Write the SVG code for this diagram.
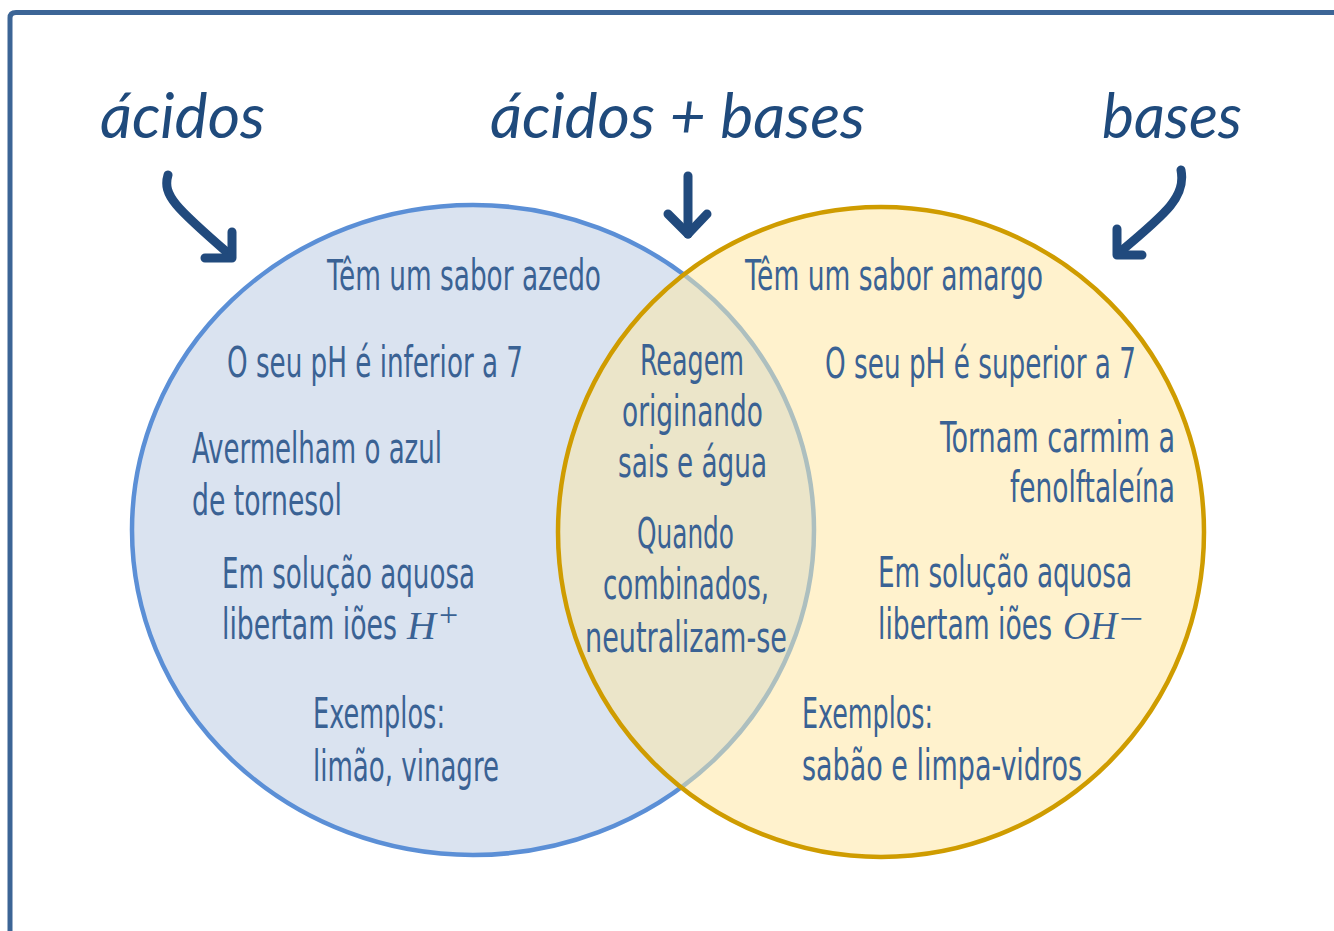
<svg xmlns="http://www.w3.org/2000/svg" width="1334" height="931" viewBox="0 0 1334 931">
<style>
.t{font-family:"Liberation Sans Narrow","DejaVu Sans Condensed","Liberation Sans",sans-serif;font-size:42px;fill:#3a6294}
.m{font-family:"Liberation Serif",serif;font-style:italic;font-size:40px}
.s{font-family:"Liberation Serif",serif;font-style:normal;font-size:34px}
.h{font-family:"Lato","Noto Sans",sans-serif;font-style:italic;font-size:62px;fill:#1f4a7c}
.arr{fill:none;stroke:#214a7d;stroke-width:9;stroke-linecap:round;stroke-linejoin:round}
</style>
<defs>
<clipPath id="cr"><ellipse cx="881" cy="532" rx="323" ry="325"/></clipPath>
</defs>
<rect width="1334" height="931" fill="#ffffff"/>
<path id="frame" d="M10,931 V18 Q10,12.5 16,12.5 H1334" fill="none" stroke="#3c6596" stroke-width="5"/>

<g id="acids-circle">
<ellipse cx="473" cy="530" rx="341" ry="325" fill="#dae3f0" stroke="#5b8fd6" stroke-width="4.5"/>
</g>
<g id="bases-circle">
<ellipse cx="881" cy="532" rx="323" ry="325" fill="#fff2cd"/>
</g>
<g id="overlap" clip-path="url(#cr)">
<ellipse cx="473" cy="530" rx="341" ry="325" fill="#ebe5c9" stroke="#adbfbf" stroke-width="4.5"/>
</g>
<ellipse cx="881" cy="532" rx="323" ry="325" fill="none" stroke="#cf9c00" stroke-width="4.5"/>

<g id="titles">
<text class="h" x="100" y="138" textLength="165" lengthAdjust="spacingAndGlyphs">ácidos</text>
<text class="h" x="490" y="138" textLength="375" lengthAdjust="spacingAndGlyphs">ácidos + bases</text>
<text class="h" x="1102" y="138" textLength="140" lengthAdjust="spacingAndGlyphs">bases</text>
</g>

<g id="connectors">
<path class="arr" d="M168,175 C162,195 176,208 229,254"/>
<path class="arr" d="M232,232 V258 H205"/>
<path class="arr" d="M688,176 V234"/>
<path class="arr" d="M668,214 L688,234 L707,214"/>
<path class="arr" d="M1181,170 C1186,196 1168,212 1120,252"/>
<path class="arr" d="M1117,229 V255 H1142"/>
</g>

<g id="acids-text">
<text class="t" x="327" y="290" textLength="274" lengthAdjust="spacingAndGlyphs">Têm um sabor azedo</text>
<text class="t" x="227" y="377" textLength="296" lengthAdjust="spacingAndGlyphs">O seu pH é inferior a 7</text>
<text class="t" x="192" y="463" textLength="250" lengthAdjust="spacingAndGlyphs">Avermelham o azul</text>
<text class="t" x="192" y="515" textLength="150" lengthAdjust="spacingAndGlyphs">de tornesol</text>
<text class="t" x="222" y="588" textLength="253" lengthAdjust="spacingAndGlyphs">Em solução aquosa</text>
<text class="t" y="639"><tspan x="222" textLength="175" lengthAdjust="spacingAndGlyphs">libertam iões</tspan><tspan class="m" x="407">H</tspan><tspan class="s" x="439" y="626">+</tspan></text>
<text class="t" x="313" y="728" textLength="132" lengthAdjust="spacingAndGlyphs">Exemplos:</text>
<text class="t" x="313" y="781" textLength="186" lengthAdjust="spacingAndGlyphs">limão, vinagre</text>
</g>

<g id="both-text">
<text class="t" x="640" y="375" textLength="104" lengthAdjust="spacingAndGlyphs">Reagem</text>
<text class="t" x="622" y="426" textLength="141" lengthAdjust="spacingAndGlyphs">originando</text>
<text class="t" x="618" y="477" textLength="149" lengthAdjust="spacingAndGlyphs">sais e água</text>
<text class="t" x="637" y="548" textLength="97" lengthAdjust="spacingAndGlyphs">Quando</text>
<text class="t" x="603" y="599" textLength="166" lengthAdjust="spacingAndGlyphs">combinados,</text>
<text class="t" x="585" y="652" textLength="202" lengthAdjust="spacingAndGlyphs">neutralizam-se</text>
</g>

<g id="bases-text">
<text class="t" x="745" y="290" textLength="298" lengthAdjust="spacingAndGlyphs">Têm um sabor amargo</text>
<text class="t" x="825" y="378" textLength="311" lengthAdjust="spacingAndGlyphs">O seu pH é superior a 7</text>
<text class="t" x="940" y="452" textLength="235" lengthAdjust="spacingAndGlyphs">Tornam carmim a</text>
<text class="t" x="1010" y="502" textLength="165" lengthAdjust="spacingAndGlyphs">fenolftaleína</text>
<text class="t" x="878" y="587" textLength="254" lengthAdjust="spacingAndGlyphs">Em solução aquosa</text>
<text class="t" y="639"><tspan x="878" textLength="174" lengthAdjust="spacingAndGlyphs">libertam iões</tspan><tspan class="m" x="1063" textLength="54" lengthAdjust="spacingAndGlyphs">OH</tspan><tspan class="s" x="1119" y="630" textLength="24" lengthAdjust="spacingAndGlyphs">−</tspan></text>
<text class="t" x="802" y="728" textLength="131" lengthAdjust="spacingAndGlyphs">Exemplos:</text>
<text class="t" x="802" y="780" textLength="280" lengthAdjust="spacingAndGlyphs">sabão e limpa-vidros</text>
</g>
</svg>
